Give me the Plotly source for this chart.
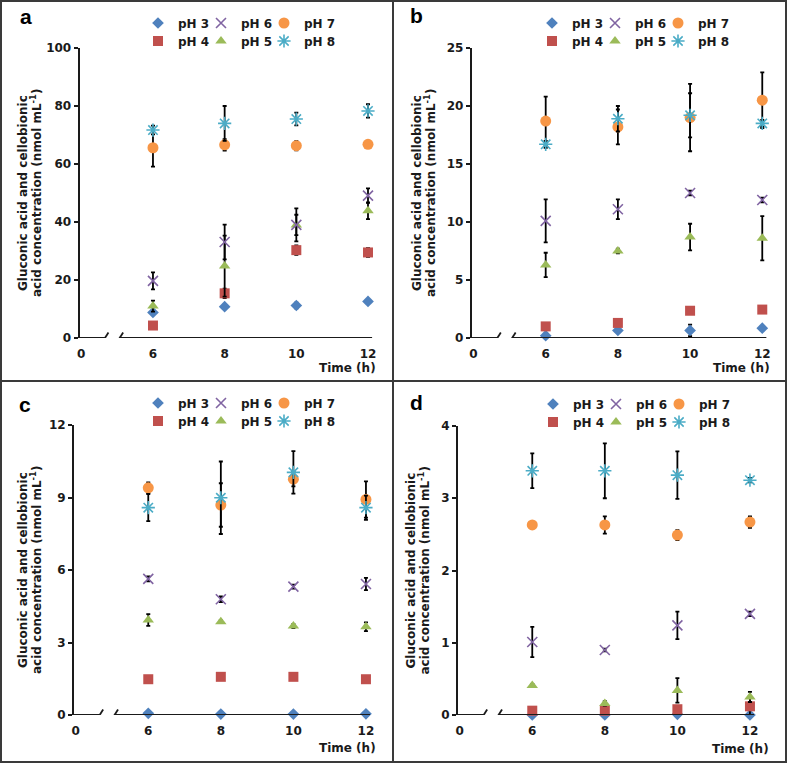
import plotly.graph_objects as go

W, H = 787, 763

TIME = [6, 8, 10, 12]
SERIES = ["pH 3", "pH 4", "pH 5", "pH 6", "pH 7", "pH 8"]
COLORS = ["#4F81BD", "#C0504D", "#9BBB59", "#8064A2", "#F79646", "#4BACC6"]
SYMBOLS = ["diamond", "square", "triangle-up", "x-thin-open", "circle", "asterisk-open"]
SIZES = [9, 10, 10, 10, 11, 11]
LEGEND_ROW = [0, 1, 1, 0, 0, 1]  # pH 3/6/7 on the first row, pH 4/5/8 on the second
LAST_IN_ROW = [False, False, False, False, True, True]

X_TICKVALS = [4, 6, 8, 10, 12]
X_TICKTEXT = ["0", "6", "8", "10", "12"]

# rows: pH 3 .. pH 8, columns: 6, 8, 10, 12 h
A_MEAN = [[8.8, 10.8, 11.2, 12.6],
          [4.3, 15.4, 30.3, 29.5],
          [11.0, 24.8, 39.0, 43.9],
          [19.7, 33.1, 39.0, 49.1],
          [65.6, 66.6, 66.3, 66.8],
          [71.7, 74.0, 75.5, 78.3]]
A_ERR = [[0.8, 0.5, 1.0, 0.6],
         [0.3, 1.6, 1.6, 1.5],
         [1.9, 10.5, 3.5, 2.9],
         [2.9, 6.0, 5.7, 2.5],
         [6.5, 2.0, 1.6, 0.8],
         [1.5, 6.0, 2.2, 2.3]]
A_YTICKS = [0, 20, 40, 60, 80, 100]

B_MEAN = [[0.2, 0.65, 0.65, 0.85],
          [1.0, 1.3, 2.35, 2.45],
          [6.3, 7.5, 8.7, 8.6],
          [10.1, 11.1, 12.5, 11.9],
          [18.7, 18.2, 19.0, 20.5],
          [16.7, 18.9, 19.2, 18.5]]
B_ERR = [[0.1, 0.1, 0.5, 0.1],
         [0.1, 0.1, 0.1, 0.1],
         [1.05, 0.2, 1.15, 1.9],
         [1.85, 0.85, 0.2, 0.2],
         [2.1, 1.5, 2.9, 2.4],
         [0.3, 1.1, 1.9, 0.3]]
B_YTICKS = [0, 5, 10, 15, 20, 25]

C_MEAN = [[0.07, 0.04, 0.04, 0.05],
          [1.48, 1.58, 1.58, 1.48],
          [3.93, 3.86, 3.68, 3.65],
          [5.63, 4.79, 5.31, 5.42],
          [9.4, 8.69, 9.76, 8.92],
          [8.58, 8.99, 10.04, 8.58]]
C_ERR = [[0.02, 0.02, 0.02, 0.02],
         [0.05, 0.05, 0.05, 0.12],
         [0.24, 0.05, 0.08, 0.18],
         [0.1, 0.12, 0.08, 0.25],
         [0.22, 0.9, 0.3, 0.75],
         [0.56, 1.5, 0.88, 0.5]]
C_YTICKS = [0, 3, 6, 9, 12]

D_MEAN = [[0.0, 0.0, 0.01, 0.0],
          [0.06, 0.06, 0.08, 0.12],
          [0.41, 0.16, 0.34, 0.25],
          [1.01, 0.9, 1.24, 1.40],
          [2.63, 2.63, 2.49, 2.67],
          [3.38, 3.38, 3.32, 3.25]]
D_ERR = [[0.01, 0.01, 0.01, 0.01],
         [0.01, 0.01, 0.02, 0.12],
         [0.02, 0.03, 0.17, 0.07],
         [0.21, 0.02, 0.19, 0.03],
         [0.01, 0.12, 0.07, 0.08],
         [0.24, 0.38, 0.33, 0.03]]
D_YTICKS = [0, 1, 2, 3, 4]

X_RANGE = [3.95, 12.12]
BREAKS = [4.66, 5.07]

# plot-area geometry in pixels: left, right, top, bottom of each panel
PANELS = [
    dict(tag="a", mean=A_MEAN, err=A_ERR, yticks=A_YTICKS, box=(79.5, 372.3, 48, 338),
         label=(26, 16), ytitle=(23, 36), time=(378, 368), legend=(138, 23)),
    dict(tag="b", mean=B_MEAN, err=B_ERR, yticks=B_YTICKS, box=(471.7, 766.6, 48, 338),
         label=(416, 15), ytitle=(417, 430), time=(772, 368), legend=(532, 23)),
    dict(tag="c", mean=C_MEAN, err=C_ERR, yticks=C_YTICKS, box=(73.9, 370.3, 425, 715),
         label=(25, 404), ytitle=(23, 36), time=(378, 748), legend=(138, 403)),
    dict(tag="d", mean=D_MEAN, err=D_ERR, yticks=D_YTICKS, box=(457.9, 754.3, 426, 715),
         label=(416, 403), ytitle=(410, 423), time=(771, 749), legend=(533, 404)),
]

FONT = "DejaVu Sans"
INK = "#1a1a1a"
FRAME = "#3a3a3a"


def px_x(v):
    return v / W


def px_y(v):
    return 1 - v / H


fig = go.Figure()
layout = dict(shapes=[], annotations=[])

for p_i, panel in enumerate(PANELS):
    n = p_i + 1
    xa = "x" if n == 1 else f"x{n}"
    ya = "y" if n == 1 else f"y{n}"
    left, right, top, bottom = panel["box"]

    for s_i, name in enumerate(SERIES):
        leg_idx = 2 * p_i + LEGEND_ROW[s_i] + 1
        leg = "legend" if leg_idx == 1 else f"legend{leg_idx}"
        is_open = SYMBOLS[s_i].endswith("open")
        fig.add_trace(go.Scatter(
            x=TIME, y=panel["mean"][s_i],
            mode="markers", name=name,
            xaxis=xa, yaxis=ya, legend=leg,
            legendwidth=40 if LAST_IN_ROW[s_i] else 18,
            cliponaxis=False,
            marker=dict(symbol=SYMBOLS[s_i], size=SIZES[s_i], color=COLORS[s_i],
                        line=dict(width=1.6 if is_open else 0, color=COLORS[s_i])),
            error_y=dict(type="data", array=panel["err"][s_i], color="black",
                         thickness=1.8, width=2),
        ))

    # legends: two horizontal rows per panel
    lx, ly = panel["legend"]
    for r in range(2):
        leg_idx = 2 * p_i + r + 1
        key = "legend" if leg_idx == 1 else f"legend{leg_idx}"
        layout[key] = dict(
            orientation="h", x=px_x(lx), y=px_y(ly + 18 * r),
            xanchor="left", yanchor="middle",
            entrywidthmode="pixels",
            bgcolor="rgba(0,0,0,0)", borderwidth=0,
            font=dict(family=FONT, size=12, color=INK, weight="bold"),
            itemclick=False, itemdoubleclick=False,
        )

    yr = [panel["yticks"][0], panel["yticks"][-1]]
    layout["xaxis" if n == 1 else f"xaxis{n}"] = dict(
        domain=[px_x(left), px_x(right)], range=X_RANGE, anchor=ya,
        tickvals=X_TICKVALS, ticktext=X_TICKTEXT,
        ticks="outside", ticklen=5, tickcolor="rgba(0,0,0,0)",
        showline=False, showgrid=False, zeroline=False, automargin=False,
        tickfont=dict(family=FONT, size=12, color=INK, weight="bold"),
    )
    layout["yaxis" if n == 1 else f"yaxis{n}"] = dict(
        domain=[px_y(bottom), px_y(top)], range=yr, anchor=xa,
        tickvals=panel["yticks"], ticks="outside", ticklen=4, tickwidth=1.5, tickcolor=INK,
        showline=True, linewidth=1.8, linecolor=INK, automargin=False,
        showgrid=False, zeroline=False,
        tickfont=dict(family=FONT, size=12, color=INK, weight="bold"),
    )

    # broken x axis: two line pieces and the // marks
    line = dict(color=INK, width=1.8)
    layout["shapes"] += [
        dict(type="line", xref=xa, yref=ya, x0=X_RANGE[0], x1=BREAKS[0], y0=yr[0], y1=yr[0], line=line),
        dict(type="line", xref=xa, yref=ya, x0=BREAKS[1], x1=X_RANGE[1], y0=yr[0], y1=yr[0], line=line),
    ]
    for b in BREAKS:
        layout["shapes"].append(dict(
            type="line", xref=xa, yref=ya, xsizemode="pixel", ysizemode="pixel",
            xanchor=b, yanchor=yr[0], x0=-3.5, x1=3.5, y0=-5.5, y1=5.5, line=line))

    # texts
    layout["annotations"] += [
        dict(text=panel["tag"], x=px_x(panel["label"][0]), y=px_y(panel["label"][1]),
             xref="paper", yref="paper", showarrow=False, xanchor="center", yanchor="middle",
             font=dict(family="Liberation Sans", size=21, color="black", weight="bold")),
        dict(text="Time (h)", x=px_x(panel["time"][0]), y=px_y(panel["time"][1]),
             xref="paper", yref="paper", showarrow=False, xanchor="right", yanchor="middle",
             font=dict(family=FONT, size=12, color=INK, weight="bold")),
    ]
    ymid = (top + bottom) / 2
    for t_x, txt in zip(panel["ytitle"], ["Gluconic acid and cellobionic",
                                          "acid concentration (nmol mL<sup>-1</sup>)"]):
        layout["annotations"].append(dict(
            text=txt, x=px_x(t_x), y=px_y(ymid), xref="paper", yref="paper",
            showarrow=False, textangle=-90, xanchor="center", yanchor="middle",
            font=dict(family=FONT, size=12, color=INK, weight="bold")))

# panel frames
frame = dict(color=FRAME, width=2)
layout["shapes"] += [
    dict(type="rect", xref="paper", yref="paper", x0=px_x(1), x1=px_x(786), y0=px_y(762), y1=px_y(1), line=frame),
    dict(type="line", xref="paper", yref="paper", x0=px_x(393), x1=px_x(393), y0=px_y(762), y1=px_y(1), line=frame),
    dict(type="line", xref="paper", yref="paper", x0=px_x(1), x1=px_x(786), y0=px_y(381), y1=px_y(381), line=frame),
]

fig.update_layout(
    width=W, height=H, autosize=False,
    margin=dict(l=0, r=0, t=0, b=0, autoexpand=False),
    paper_bgcolor="white", plot_bgcolor="white",
    showlegend=True,
    **layout,
)

# the page body has a default 8px margin; drop it so the figure sits at the window origin
fig.write_html("out.html", config={"displayModeBar": False},
               post_script="document.body.style.margin = '0';")
